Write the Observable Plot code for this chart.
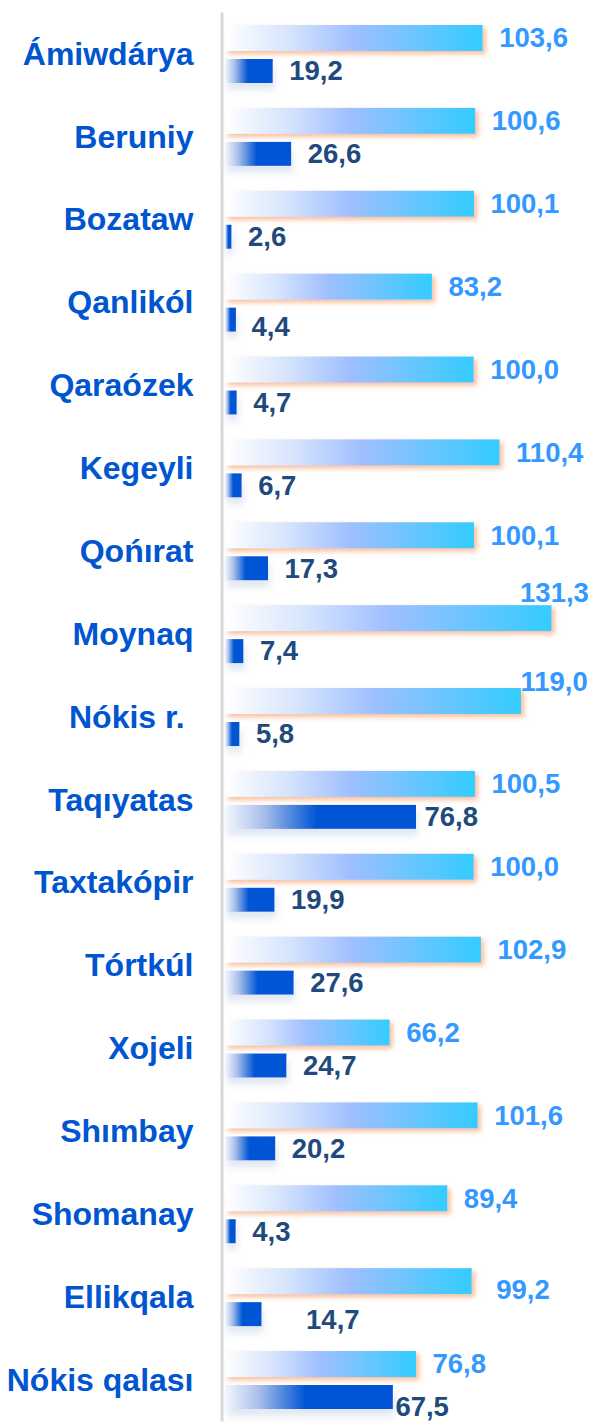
<!DOCTYPE html>
<html>
<head>
<meta charset="utf-8">
<script src="https://cdn.jsdelivr.net/npm/d3@7"></script>
<script src="https://cdn.jsdelivr.net/npm/@observablehq/plot@0.6"></script>
<style>
  html, body { margin: 0; padding: 0; background: #ffffff; }
  #chart svg { display: block; }
</style>
</head>
<body>
<div id="chart"></div>
<script>
// ---- data ----
const districts = [
  "Ámiwdárya", "Beruniy", "Bozataw", "Qanlikól", "Qaraózek", "Kegeyli",
  "Qońırat", "Moynaq", "Nókis r.", "Taqıyatas", "Taxtakópir", "Tórtkúl",
  "Xojeli", "Shımbay", "Shomanay", "Ellikqala", "Nókis qalası"
];
const lightValues = [103.6, 100.6, 100.1, 83.2, 100.0, 110.4, 100.1, 131.3, 119.0, 100.5, 100.0, 102.9, 66.2, 101.6, 89.4, 99.2, 76.8];
const darkValues  = [19.2, 26.6, 2.6, 4.4, 4.7, 6.7, 17.3, 7.4, 5.8, 76.8, 19.9, 27.6, 24.7, 20.2, 4.3, 14.7, 67.5];

// label nudges (layout config, not data)
const lightNudge = {"Moynaq": [-32, -25], "Nókis r.": [-1, -19], "Ellikqala": [24, 9]};
const darkNudge = {"Taqıyatas": [8, 0], "Ellikqala": [44, 6], "Nókis qalası": [2, 10], "Qanlikól": [15, 7]};

const rows = districts.map((name, i) => ({name, light: lightValues[i], dark: darkValues[i]}));
const fmt = v => d3.format(".1f")(v).replace(".", ",");

const FONT = "'Liberation Sans', Arial, sans-serif";
const W = 594, H = 1424;
const mTop = 12.5, mBottom = 2.6, mLeft = 225, mRight = 20.8;
const band = (H - mTop - mBottom) / districts.length;
const lightTop = 12.5, lightH = 26, darkTop = 46.5, darkH = 24;
const lightCenterOffset = lightTop + lightH / 2 - band / 2;
const darkCenterOffset = darkTop + darkH / 2 - band / 2;

function labelMarks(field, nudges, color, baseDy) {
  const groups = new Map();
  for (const r of rows) {
    const n = nudges[r.name] || [16, 0];
    const key = n.join(",");
    if (!groups.has(key)) groups.set(key, {n, items: []});
    groups.get(key).items.push(r);
  }
  return [...groups.values()].map(g => Plot.text(g.items, {
    x: field, y: "name", text: d => fmt(d[field]),
    textAnchor: "start", dx: g.n[0], dy: baseDy + g.n[1],
    fill: color, fontSize: 27.5, fontWeight: "bold", fontFamily: FONT
  }));
}

const chart = Plot.plot({
  width: W, height: H,
  marginTop: mTop, marginBottom: mBottom, marginLeft: mLeft, marginRight: mRight,
  style: {fontFamily: FONT, background: "#ffffff", overflow: "visible"},
  x: {domain: [0, 140], axis: null},
  y: {domain: districts, padding: 0, round: false, axis: null},
  marks: [
    Plot.ruleX([0], {dx: -3.5, stroke: "#d9d9d9", strokeWidth: 3}),
    Plot.barX(rows, {x: "light", y: "name", fill: "#33ccff",
      insetTop: lightTop, insetBottom: band - lightTop - lightH}),
    Plot.barX(rows, {x: "dark", y: "name", fill: "#0055d4",
      insetTop: darkTop, insetBottom: band - darkTop - darkH}),
    Plot.text(rows, {x: 0, y: "name", text: d => d.name === "Nókis r." ? d.name + "\u00a0" : d.name,
      textAnchor: "end", dx: -32, fill: "#0055d0", fontSize: 32, fontWeight: "bold", fontFamily: FONT}),
    ...labelMarks("light", lightNudge, "#3399ff", lightCenterOffset),
    ...labelMarks("dark", darkNudge, "#1f4a7d", darkCenterOffset)
  ]
});

// gradients and shadows
const svg = d3.select(chart);
const defs = svg.insert("defs", ":first-child");
const gl = defs.append("linearGradient").attr("id", "gradLight").attr("x1", 0).attr("x2", 1).attr("y1", 0).attr("y2", 0);
gl.append("stop").attr("offset", 0).attr("stop-color", "#ffffff");
gl.append("stop").attr("offset", 0.25).attr("stop-color", "#d6e4fd");
gl.append("stop").attr("offset", 0.5).attr("stop-color", "#9fbfff");
gl.append("stop").attr("offset", 1).attr("stop-color", "#33ccff");
const gd = defs.append("linearGradient").attr("id", "gradDark").attr("x1", 0).attr("x2", 1).attr("y1", 0).attr("y2", 0);
gd.append("stop").attr("offset", 0).attr("stop-color", "#f4f7fd");
gd.append("stop").attr("offset", 0.2).attr("stop-color", "#a9bfea");
gd.append("stop").attr("offset", 0.48).attr("stop-color", "#0055d4");
gd.append("stop").attr("offset", 1).attr("stop-color", "#0055d4");
const fl = defs.append("filter").attr("id", "shLight").attr("x", "-5%").attr("y", "-5%").attr("width", "115%").attr("height", "115%");
fl.append("feDropShadow").attr("dx", 3).attr("dy", 3).attr("stdDeviation", 2.5)
  .attr("flood-color", "#f5a878").attr("flood-opacity", 0.75);
const fd = defs.append("filter").attr("id", "shDark").attr("x", "-5%").attr("y", "-5%").attr("width", "115%").attr("height", "115%");
fd.append("feDropShadow").attr("dx", 2).attr("dy", 7).attr("stdDeviation", 3.5)
  .attr("flood-color", "#c3d0e6").attr("flood-opacity", 0.5);

const barGroups = svg.selectAll("g[aria-label='bar']").nodes();
if (barGroups[0]) { d3.select(barGroups[0]).attr("fill", "url(#gradLight)").attr("filter", "url(#shLight)"); }
if (barGroups[1]) { d3.select(barGroups[1]).attr("fill", "url(#gradDark)").attr("filter", "url(#shDark)"); }

document.getElementById("chart").appendChild(chart);
</script>
</body>
</html>
